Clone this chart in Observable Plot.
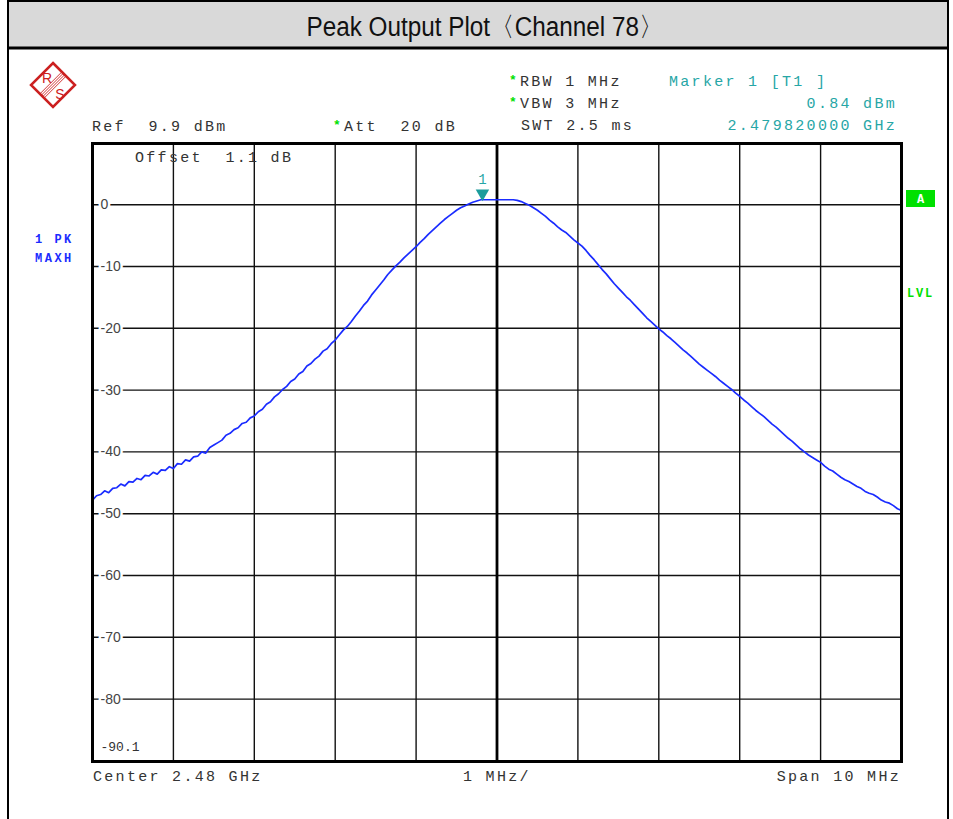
<!DOCTYPE html>
<html>
<head>
<meta charset="utf-8">
<script src="https://cdn.jsdelivr.net/npm/d3@7"></script>
<script src="https://cdn.jsdelivr.net/npm/@observablehq/plot@0.6"></script>
<style>
  html, body { margin: 0; padding: 0; background: #fff; }
  #chart svg text { white-space: pre; }
</style>
</head>
<body>
<div id="chart"></div>
<script>
// ---- sweep settings ----
const centerGHz = 2.48;
const spanMHz = 10;
const refLevel = 9.9;      // dBm (top of screen)
const bottomLevel = -90.1; // dBm (bottom of screen)

// ---- trace levels (dBm), evenly spaced sweep points from -5 MHz to +5 MHz (0.05 MHz apart) ----
const traceLevels = [
  -47.8, -47.1, -46.9, -46.3, -46.6, -45.9, -45.8, -45.2, -45.5, -44.8,
  -44.9, -44.3, -44.5, -43.8, -43.9, -43.3, -43.6, -42.9, -43.0, -42.4,
  -42.7, -41.9, -42.0, -41.3, -41.5, -40.8, -40.7, -40.0, -40.2, -39.3,
  -38.9, -38.5, -38.1, -37.3, -37.0, -36.4, -36.1, -35.4, -35.2, -34.5,
  -34.2, -33.5, -33.1, -32.3, -31.9, -31.1, -30.6, -29.9, -29.4, -28.6,
  -28.2, -27.4, -27.0, -26.1, -25.7, -25.0, -24.5, -23.7, -23.3, -22.5,
  -21.9, -21.1, -20.3, -19.7, -18.9, -18.0, -17.2, -16.3, -15.6, -14.6,
  -13.8, -13.0, -12.2, -11.3, -10.6, -9.9, -9.3, -8.6, -8.0, -7.4,
  -6.8, -6.1, -5.5, -4.8, -4.2, -3.6, -3.0, -2.4, -1.9, -1.4,
  -0.9, -0.5, -0.2, 0.1, 0.4, 0.6, 0.8, 0.8, 0.8, 0.8,
  0.8, 0.8, 0.8, 0.8, 0.8, 0.7, 0.5, 0.2, -0.1, -0.5,
  -0.9, -1.4, -1.9, -2.5, -3.0, -3.6, -4.1, -4.5, -5.1, -5.7,
  -6.2, -6.7, -7.4, -8.2, -8.9, -9.7, -10.5, -11.2, -12.0, -12.8,
  -13.5, -14.2, -14.9, -15.5, -16.2, -16.9, -17.6, -18.3, -18.9, -19.5,
  -20.1, -20.6, -21.2, -21.7, -22.3, -22.9, -23.5, -24.0, -24.6, -25.2,
  -25.8, -26.3, -26.8, -27.3, -27.8, -28.4, -28.9, -29.4, -29.9, -30.5,
  -31.0, -31.6, -32.1, -32.7, -33.3, -33.8, -34.3, -34.9, -35.5, -36.0,
  -36.6, -37.2, -37.8, -38.3, -38.9, -39.5, -40.0, -40.5, -40.9, -41.3,
  -41.7, -42.3, -42.8, -43.1, -43.6, -44.1, -44.5, -44.8, -45.2, -45.6,
  -45.9, -46.4, -46.7, -46.9, -47.3, -47.8, -48.1, -48.3, -48.7, -49.2,
  -49.5
];

// ---- grid / tick labels ----
const freqGrid = [-4, -3, -2, -1, 1, 2, 3, 4];      // MHz offsets of vertical divisions
const levelGrid = [0, -10, -20, -30, -40, -50, -60, -70, -80];
const levelLabels = ["0", "-10", "-20", "-30", "-40", "-50", "-60", "-70", "-80"];
const bottomLabel = ["-90.1"];

// ---- marker ----
const markerFreqOffset = [-0.18]; // MHz (2.479820000 GHz)
const markerLevel = [0.84];       // dBm

const trace = traceLevels.map((v, i) => ({
  f: -spanMHz / 2 + i * spanMHz / (traceLevels.length - 1),
  v
}));
const markers = markerFreqOffset.map((f, i) => ({f, v: markerLevel[i]}));
const levelTickData = levelGrid.map((v, i) => ({v, label: levelLabels[i]}));

const MONO = "'Liberation Mono', 'DejaVu Sans Mono', monospace";
const TEAL = "#27a6a6";
const GREEN = "#00e000";
const BLUE = "#1a2cff";

const svgNode = Plot.plot({
  width: 953,
  height: 819,
  marginLeft: 92,
  marginRight: 52,
  marginTop: 143,
  marginBottom: 58,
  style: {background: "white", overflow: "visible"},
  x: {domain: [-spanMHz / 2, spanMHz / 2], axis: null},
  y: {domain: [bottomLevel, refLevel], axis: null},
  marks: [
    Plot.ruleX(freqGrid, {stroke: "#111", strokeWidth: 1.4}),
    Plot.ruleY(levelGrid, {stroke: "#111", strokeWidth: 1.4}),
    Plot.ruleX([0], {stroke: "#000", strokeWidth: 2.8}),
    Plot.text(levelTickData, {
      x: -spanMHz / 2, y: "v", text: "label", dx: 8, textAnchor: "start",
      fontFamily: "'Liberation Sans', Arial, sans-serif", fontSize: 14, fill: "#444",
      stroke: "white", strokeWidth: 5, paintOrder: "stroke",
      style: "letter-spacing:1.2px"
    }),
    Plot.text(bottomLabel, {
      x: -spanMHz / 2, y: bottomLevel, text: d => d, dx: 8, dy: -15, textAnchor: "start",
      fontFamily: MONO, fontSize: 13, fill: "#333"
    }),
    Plot.line(trace, {x: "f", y: "v", stroke: BLUE, strokeWidth: 1.7}),
    Plot.dot(markers, {x: "f", y: "v", symbol: "triangle", rotate: 180, r: 5, fill: "#1c9c9c", dy: -6}),
    Plot.text(markers, {x: "f", y: "v", text: () => "1", dy: -20, fill: TEAL, fontFamily: MONO, fontSize: 14}),
    Plot.frame({stroke: "#000", strokeWidth: 3})
  ]
});

const svg = d3.select(svgNode);

// outer frame and title bar
svg.append("rect").attr("x", 8).attr("y", 1).attr("width", 940).attr("height", 47)
  .attr("fill", "#d9d9d9").attr("stroke", "#000").attr("stroke-width", 2);
svg.append("line").attr("x1", 8).attr("x2", 8).attr("y1", 0).attr("y2", 819).attr("stroke", "#000").attr("stroke-width", 2);
svg.append("line").attr("x1", 948).attr("x2", 948).attr("y1", 0).attr("y2", 819).attr("stroke", "#000").attr("stroke-width", 2);
svg.append("line").attr("x1", 8).attr("x2", 948).attr("y1", 48).attr("y2", 48).attr("stroke", "#000").attr("stroke-width", 3);
svg.append("text").attr("transform", "translate(485,36) scale(0.9,1)").attr("text-anchor", "middle")
  .attr("font-family", "'Liberation Sans Narrow', 'Liberation Sans', Arial, sans-serif")
  .attr("font-size", 27).attr("fill", "#111").text("Peak Output Plot〈Channel 78〉");

// R&S logo
const logo = svg.append("g").attr("transform", "translate(53,85)");
logo.append("path").attr("d", "M0,-22 L22,0 L0,22 L-22,0 Z").attr("fill", "none").attr("stroke", "#cc2020").attr("stroke-width", 2.5);
[-3, -1, 1, 3].forEach(o => {
  const s = o / Math.SQRT2;
  logo.append("line").attr("x1", -11 + s).attr("y1", 11 + s).attr("x2", 11 + s).attr("y2", -11 + s)
    .attr("stroke", "#cc2020").attr("stroke-width", 0.9);
});
logo.append("text").attr("x", -6).attr("y", -2).attr("text-anchor", "middle").attr("font-family", "'Liberation Sans', sans-serif")
  .attr("font-size", 14).attr("fill", "#cc2020").text("R");
logo.append("text").attr("x", 7).attr("y", 14).attr("text-anchor", "middle").attr("font-family", "'Liberation Sans', sans-serif")
  .attr("font-size", 14).attr("fill", "#cc2020").text("S");

function mono(x, y, str, color, anchor) {
  return svg.append("text").attr("x", x).attr("y", y).attr("text-anchor", anchor || "start")
    .attr("font-family", MONO).attr("font-size", 15).attr("letter-spacing", "2.3px")
    .attr("fill", color || "#333").style("white-space", "pre").text(str);
}
function star(x, y) {
  svg.append("text").attr("x", x).attr("y", y).attr("text-anchor", "start").attr("font-family", MONO).attr("font-size", 13)
    .attr("font-weight", "bold").attr("fill", GREEN).text("*");
}

// header settings
star(509, 84); mono(520, 86, "RBW 1 MHz");
star(509, 106); mono(520, 108, "VBW 3 MHz");
mono(521, 130, "SWT 2.5 ms");
mono(92, 131, "Ref  9.9 dBm");
star(333, 129); mono(344, 131, "Att  20 dB");
mono(669, 86, "Marker 1 [T1 ]", TEAL);
mono(897, 108, "0.84 dBm", TEAL, "end");
mono(897, 130, "2.479820000 GHz", TEAL, "end");
mono(135, 162, "Offset  1.1 dB");

// left trace info
function boldSmall(x, y, str, color, ls) {
  return svg.append("text").attr("x", x).attr("y", y).attr("text-anchor", "start").attr("font-family", MONO).attr("font-size", 12)
    .attr("font-weight", "bold").attr("letter-spacing", ls + "px").attr("fill", color).style("white-space", "pre").text(str);
}
boldSmall(35, 243, "1 PK", BLUE, 2.5);
boldSmall(35, 262, "MAXH", BLUE, 2.5);

// right side indicators
svg.append("rect").attr("x", 906).attr("y", 190).attr("width", 29).attr("height", 17).attr("fill", GREEN);
svg.append("text").attr("x", 920.5).attr("y", 203).attr("text-anchor", "middle").attr("font-family", MONO)
  .attr("font-size", 12).attr("font-weight", "bold").attr("fill", "#fff").text("A");
boldSmall(907, 297, "LVL", GREEN, 1.8);

// footer
mono(93, 781, "Center 2.48 GHz");
mono(463, 781, "1 MHz/");
mono(901, 781, "Span 10 MHz", "#333", "end");

document.getElementById("chart").appendChild(svgNode);
</script>
</body>
</html>
